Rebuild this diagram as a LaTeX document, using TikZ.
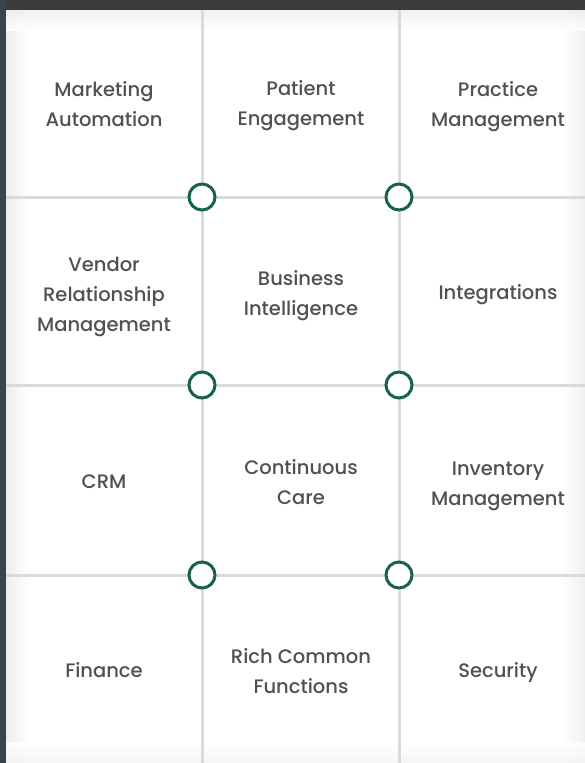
\documentclass[tikz,border=0pt]{standalone}
\usepackage{fontspec}
\setmainfont{Poppins Medium}
\begin{document}
\begin{tikzpicture}[x=1pt,y=-1pt,
  celltext/.style={align=center,font=\fontsize{19.5}{30}\selectfont,text=txtgray,inner sep=0pt},
  gridline/.style={draw=gridgray,line width=3pt},
  hub/.style={circle,draw=hubgreen,line width=3pt,fill=white,minimum size=26pt,inner sep=0pt}]
\definecolor{txtgray}{HTML}{4F5251}
\definecolor{gridgray}{HTML}{D9DADA}
\definecolor{hubgreen}{HTML}{17614F}
\definecolor{topdark}{HTML}{3A3B3C}
\definecolor{leftdark}{HTML}{3C4252}
\useasboundingbox (0,0) rectangle (585,763);
% frame
\fill[topdark] (0,0) rectangle (585,10);
\fill[leftdark] (0,0) rectangle (6,763);
\fill[leftdark] (0,740) rectangle (30,763);
\begin{scope}
\path[clip] (6,10) -- (620,10) -- (620,766) -- (20,766) arc[start angle=90,end angle=180,radius=14pt] -- cycle;
\fill[white] (0,0) rectangle (620,780);
\shade[left color=black!7,right color=white] (6,10) rectangle (28,766);
\shade[left color=white,right color=black!6] (562,10) rectangle (585,766);
\shade[top color=black!7,bottom color=white,opacity=0.8] (6,10) rectangle (585,30);
\shade[top color=white,bottom color=black!5,opacity=0.8] (6,742) rectangle (585,766);
\end{scope}
% grid anchors
\coordinate (v1t) at (202,10);  \coordinate (v1b) at (202,763);
\coordinate (v2t) at (399,10);  \coordinate (v2b) at (399,763);
\coordinate (h1l) at (6,197);   \coordinate (h1r) at (585,197);
\coordinate (h2l) at (6,385);   \coordinate (h2r) at (585,385);
\coordinate (h3l) at (6,575);   \coordinate (h3r) at (585,575);
\draw[gridline] (v1t) -- (v1b);
\draw[gridline] (v2t) -- (v2b);
\draw[gridline] (h1l) -- (h1r);
\draw[gridline] (h2l) -- (h2r);
\draw[gridline] (h3l) -- (h3r);
% hubs
\node[hub] (c11) at (202,197) {};
\node[hub] (c12) at (399,197) {};
\node[hub] (c21) at (202,385) {};
\node[hub] (c22) at (399,385) {};
\node[hub] (c31) at (202,575) {};
\node[hub] (c32) at (399,575) {};
% texts
\node[celltext] (mkt) at (104,104) {Marketing\\Automation};
\node[celltext] (pat) at (301,106) {Patient\\Engagement};
\node[celltext] (prm) at (498,107) {Practice\\Management};
\node[celltext] (vrm) at (104,297) {Vendor\\Relationship\\Management};
\node[celltext] (bi)  at (301,296) {Business\\Intelligence};
\node[celltext] (int) at (498,295) {Integrations};
\node[celltext] (crm) at (104,482) {CRM};
\node[celltext] (cc)  at (301,482) {Continuous\\Care};
\node[celltext] (inv) at (498,486) {Inventory\\Management};
\node[celltext] (fin) at (104,670) {Finance};
\node[celltext] (rcf) at (301,671) {Rich Common\\Functions};
\node[celltext] (sec) at (498,673) {Security};
\end{tikzpicture}
\end{document}
